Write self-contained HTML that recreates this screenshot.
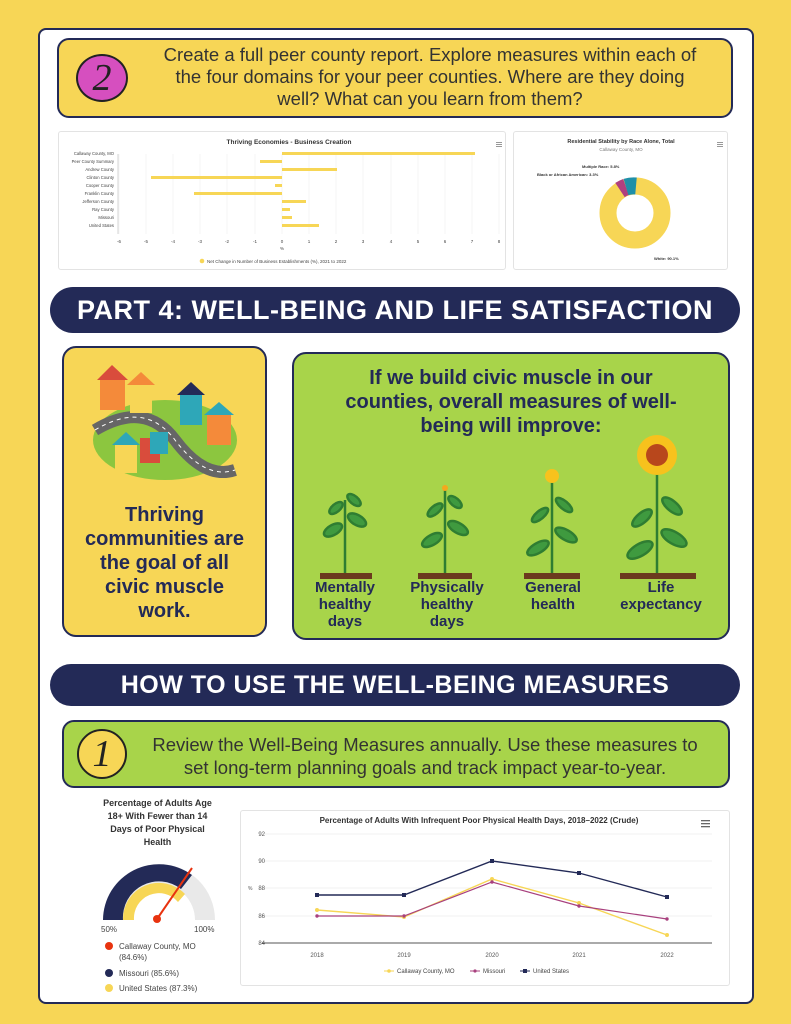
<!DOCTYPE html><html><head><meta charset="utf-8"><style>
*{margin:0;padding:0;box-sizing:border-box}
body{width:791px;height:1024px;background:#F7D656;position:relative;font-family:"Liberation Sans",sans-serif;overflow:hidden}
.abs{position:absolute}
.panel{left:38px;top:28px;width:716px;height:976px;background:#fff;border:2px solid #232a57;border-radius:8px}
.banner{background:#232a57;color:#fff;border-radius:24px;text-align:center;font-weight:bold;letter-spacing:0.5px}
.card{background:#fff;border:1px solid #e3e3e3;border-radius:3px}
</style></head><body>
<div class="abs panel"></div>
<div class="abs" style="left:57px;top:38px;width:676px;height:80px;background:#F7D656;border:2px solid #232a57;border-radius:12px"></div>
<div class="abs" style="left:76px;top:54px;width:52px;height:48px;border-radius:50%;background:#d64fbf;border:2px solid #222;color:#222;font-size:38px;text-align:center;line-height:44px;font-family:'Liberation Serif',serif;font-style:italic">2</div>
<div class="abs" style="left:130px;top:44px;width:600px;text-align:center;font-size:18.5px;line-height:22px;color:#333;white-space:nowrap">Create a full peer county report. Explore measures within each of<br>the four domains for your peer counties. Where are they doing<br>well? What can you learn from them?</div>

<div class="abs card" style="left:58px;top:131px;width:448px;height:139px">
<svg width="448" height="139" style="font-family:'Liberation Sans',sans-serif">
<text x="230" y="12" font-size="6.5" font-weight="bold" text-anchor="middle" fill="#333">Thriving Economies - Business Creation</text>
<g stroke="#eee" stroke-width="0.6">
<line x1="60" y1="22" x2="60" y2="102"/><line x1="87" y1="22" x2="87" y2="102"/><line x1="114" y1="22" x2="114" y2="102"/><line x1="141" y1="22" x2="141" y2="102"/><line x1="168" y1="22" x2="168" y2="102"/><line x1="196" y1="22" x2="196" y2="102"/><line x1="223" y1="22" x2="223" y2="102"/><line x1="250" y1="22" x2="250" y2="102"/><line x1="277" y1="22" x2="277" y2="102"/><line x1="304" y1="22" x2="304" y2="102"/><line x1="332" y1="22" x2="332" y2="102"/><line x1="359" y1="22" x2="359" y2="102"/><line x1="386" y1="22" x2="386" y2="102"/><line x1="413" y1="22" x2="413" y2="102"/><line x1="440" y1="22" x2="440" y2="102"/></g>
<line x1="59" y1="22" x2="59" y2="102" stroke="#ccc" stroke-width="0.8"/>
<g fill="#F7D656">
<rect x="223" y="20" width="193" height="3"/><rect x="201" y="28" width="22" height="3"/><rect x="223" y="36" width="55" height="3"/><rect x="92" y="44" width="131" height="3"/><rect x="216" y="52" width="7" height="3"/><rect x="135" y="60" width="88" height="3"/><rect x="223" y="68" width="24" height="3"/><rect x="223" y="76" width="8" height="3"/><rect x="223" y="84" width="10" height="3"/><rect x="223" y="92" width="37" height="3"/></g>
<g font-size="4.2" fill="#444" text-anchor="end">
<text x="55" y="23">Callaway County, MO</text><text x="55" y="31">Peer County Summary</text><text x="55" y="39">Andrew County</text><text x="55" y="47">Clinton County</text><text x="55" y="55">Cooper County</text><text x="55" y="63">Franklin County</text><text x="55" y="71">Jefferson County</text><text x="55" y="79">Ray County</text><text x="55" y="87">Missouri</text><text x="55" y="95">United States</text></g>
<g font-size="4.5" fill="#444" text-anchor="middle">
<text x="60" y="111">-6</text><text x="87" y="111">-5</text><text x="114" y="111">-4</text><text x="141" y="111">-3</text><text x="168" y="111">-2</text><text x="196" y="111">-1</text><text x="223" y="111">0</text><text x="250" y="111">1</text><text x="277" y="111">2</text><text x="304" y="111">3</text><text x="332" y="111">4</text><text x="359" y="111">5</text><text x="386" y="111">6</text><text x="413" y="111">7</text><text x="440" y="111">8</text><text x="223" y="118">%</text></g>
<circle cx="143" cy="129" r="2.3" fill="#F7D656"/><text x="148" y="131" font-size="4.5" fill="#444">Net Change in Number of Business Establishments (%), 2021 to 2022</text>
<g fill="#999"><rect x="437" y="10" width="6" height="1"/><rect x="437" y="12" width="6" height="1"/><rect x="437" y="14" width="6" height="1"/></g>
</svg></div>

<div class="abs card" style="left:513px;top:131px;width:215px;height:139px">
<svg width="215" height="139" style="font-family:'Liberation Sans',sans-serif">
<text x="107" y="11" font-size="5.5" font-weight="bold" text-anchor="middle" fill="#333">Residential Stability by Race Alone, Total</text>
<text x="107" y="19" font-size="4.5" text-anchor="middle" fill="#777">Callaway County, MO</text>
<circle cx="121" cy="81" r="27" fill="none" stroke="#F7D656" stroke-width="17"/>
<path d="M106 58 A27 27 0 0 1 112 55" stroke="#b0407f" stroke-width="17" fill="none"/>
<path d="M112 55 A27 27 0 0 1 122 54" stroke="#1f8fa8" stroke-width="17" fill="none"/>
<text x="68" y="36" font-size="4" font-weight="bold" fill="#333">Multiple Race: 5.8%</text>
<text x="23" y="44" font-size="4" font-weight="bold" fill="#333">Black or African American: 3.3%</text>
<text x="140" y="128" font-size="4" font-weight="bold" fill="#333">White: 90.1%</text>
<g fill="#999"><rect x="203" y="10" width="6" height="1"/><rect x="203" y="12" width="6" height="1"/><rect x="203" y="14" width="6" height="1"/></g>
</svg></div>

<div class="abs banner" style="left:50px;top:287px;width:690px;height:46px;font-size:27px;line-height:46px">PART 4: WELL-BEING AND LIFE SATISFACTION</div>

<div class="abs" style="left:62px;top:346px;width:205px;height:291px;background:#F7D656;border:2px solid #232a57;border-radius:14px"></div>
<svg class="abs" style="left:85px;top:360px" width="160" height="130">
<ellipse cx="80" cy="80" rx="72" ry="40" fill="#8cc63f"/>
<path d="M10 70 Q60 40 90 80 T150 110" stroke="#666" stroke-width="12" fill="none"/>
<path d="M10 70 Q60 40 90 80 T150 110" stroke="#fff" stroke-width="1" stroke-dasharray="4 4" fill="none"/>
<rect x="15" y="20" width="25" height="30" fill="#f48a3a"/><polygon points="12,20 27,5 43,20" fill="#d94c3c"/>
<rect x="45" y="25" width="22" height="28" fill="#f7d656"/><polygon points="42,25 56,12 70,25" fill="#f48a3a"/>
<rect x="95" y="35" width="22" height="30" fill="#2ea7b8"/><polygon points="92,35 106,22 120,35" fill="#232a57"/>
<rect x="122" y="55" width="24" height="30" fill="#f48a3a"/><polygon points="119,55 134,42 149,55" fill="#2ea7b8"/>
<rect x="30" y="85" width="22" height="28" fill="#f7d656"/><polygon points="27,85 41,72 55,85" fill="#2ea7b8"/>
<rect x="55" y="78" width="20" height="25" fill="#d94c3c"/><rect x="65" y="72" width="18" height="22" fill="#2ea7b8"/>
</svg>
<div class="abs" style="left:64px;top:503px;width:201px;text-align:center;font-size:20px;font-weight:bold;color:#232a57;line-height:24px;white-space:nowrap">Thriving<br>communities are<br>the goal of all<br>civic muscle<br>work.</div>

<div class="abs" style="left:292px;top:352px;width:438px;height:288px;background:#a8d44a;border:2px solid #232a57;border-radius:14px"></div>
<div class="abs" style="left:300px;top:366px;width:422px;text-align:center;font-size:20px;font-weight:bold;color:#232a57;line-height:24px;white-space:nowrap">If we build civic muscle in our<br>counties, overall measures of well-<br>being will improve:</div>
<svg class="abs" style="left:300px;top:430px" width="420" height="150">
<g stroke="#2f7d32" stroke-width="2.5" fill="#3f9a3f">
<line x1="45" y1="145" x2="45" y2="70"/><ellipse cx="33" cy="100" rx="10" ry="5" transform="rotate(-30 33 100)"/><ellipse cx="57" cy="90" rx="10" ry="5" transform="rotate(30 57 90)"/><ellipse cx="36" cy="78" rx="8" ry="4" transform="rotate(-40 36 78)"/><ellipse cx="54" cy="70" rx="8" ry="4" transform="rotate(40 54 70)"/>
<line x1="145" y1="145" x2="145" y2="60"/><ellipse cx="132" cy="110" rx="11" ry="5" transform="rotate(-30 132 110)"/><ellipse cx="158" cy="98" rx="11" ry="5" transform="rotate(30 158 98)"/><ellipse cx="135" cy="80" rx="9" ry="4" transform="rotate(-40 135 80)"/><ellipse cx="155" cy="72" rx="8" ry="4" transform="rotate(40 155 72)"/>
<line x1="252" y1="145" x2="252" y2="48"/><ellipse cx="238" cy="118" rx="12" ry="5" transform="rotate(-30 238 118)"/><ellipse cx="266" cy="105" rx="12" ry="5" transform="rotate(30 266 105)"/><ellipse cx="240" cy="85" rx="10" ry="4" transform="rotate(-40 240 85)"/><ellipse cx="264" cy="75" rx="10" ry="4" transform="rotate(40 264 75)"/>
<line x1="357" y1="145" x2="357" y2="30"/><ellipse cx="340" cy="120" rx="14" ry="6" transform="rotate(-30 340 120)"/><ellipse cx="374" cy="108" rx="14" ry="6" transform="rotate(30 374 108)"/><ellipse cx="342" cy="88" rx="12" ry="5" transform="rotate(-40 342 88)"/><ellipse cx="372" cy="76" rx="12" ry="5" transform="rotate(40 372 76)"/></g>
<circle cx="145" cy="58" r="3" fill="#f4a81d"/>
<circle cx="252" cy="46" r="7" fill="#f7c21d"/>
<circle cx="357" cy="25" r="20" fill="#f7c21d"/><circle cx="357" cy="25" r="11" fill="#b8471c"/>
<g fill="#6b3a1e"><rect x="20" y="143" width="52" height="6"/><rect x="118" y="143" width="54" height="6"/><rect x="224" y="143" width="56" height="6"/><rect x="320" y="143" width="76" height="6"/></g>
</svg>
<div class="abs" style="left:300px;top:579px;width:420px;font-size:15px;font-weight:bold;color:#232a57;line-height:17px">
<div class="abs" style="left:0;width:90px;text-align:center">Mentally healthy days</div>
<div class="abs" style="left:102px;width:90px;text-align:center">Physically healthy days</div>
<div class="abs" style="left:208px;width:90px;text-align:center">General health</div>
<div class="abs" style="left:306px;width:110px;text-align:center">Life expectancy</div></div>

<div class="abs banner" style="left:50px;top:664px;width:690px;height:42px;font-size:25px;line-height:42px">HOW TO USE THE WELL-BEING MEASURES</div>

<div class="abs" style="left:62px;top:720px;width:668px;height:68px;background:#a8d44a;border:2px solid #232a57;border-radius:12px"></div>
<div class="abs" style="left:77px;top:729px;width:50px;height:50px;border-radius:50%;background:#F7D656;border:2px solid #222;color:#222;font-size:38px;text-align:center;line-height:46px;font-family:'Liberation Serif',serif;font-style:italic">1</div>
<div class="abs" style="left:130px;top:733px;width:590px;text-align:center;font-size:18.5px;line-height:23px;color:#333;white-space:nowrap">Review the Well-Being Measures annually. Use these measures to<br>set long-term planning goals and track impact year-to-year.</div>

<div class="abs" style="left:95px;top:797px;width:125px;text-align:center;font-size:9px;font-weight:bold;color:#333;line-height:13px;white-space:nowrap">Percentage of Adults Age<br>18+ With Fewer than 14<br>Days of Poor Physical<br>Health</div>
<svg class="abs" style="left:95px;top:858px" width="130" height="140" font-family="Liberation Sans">
<path d="M8 62 A56 56 0 0 1 120 62 L100 62 A36 36 0 0 0 28 62 Z" fill="#e9e9e9"/>
<path d="M8 62 A56 56 0 0 1 97 17 L86 31 A36 36 0 0 0 28 62 Z" fill="#232a57"/>
<path d="M28 62 A36 36 0 0 1 90 36 L83 44 A25 25 0 0 0 39 62 Z" fill="#F7D656"/>
<line x1="62" y1="61" x2="97" y2="10" stroke="#e8330f" stroke-width="2"/><circle cx="62" cy="61" r="4" fill="#e8330f"/>
<text x="6" y="74" font-size="8" fill="#444">50%</text><text x="99" y="74" font-size="8" fill="#444">100%</text>
<circle cx="14" cy="88" r="4" fill="#e8330f"/><text x="24" y="91" font-size="8" fill="#444">Callaway County, MO</text>
<text x="24" y="102" font-size="8" fill="#444">(84.6%)</text>
<circle cx="14" cy="115" r="4" fill="#232a57"/><text x="24" y="118" font-size="8" fill="#444">Missouri (85.6%)</text>
<circle cx="14" cy="130" r="4" fill="#F7D656"/><text x="24" y="133" font-size="8" fill="#444">United States (87.3%)</text>
</svg>

<div class="abs card" style="left:240px;top:810px;width:490px;height:176px"></div>
<svg class="abs" style="left:0;top:0" width="791" height="1024" font-family="Liberation Sans">
<text x="479" y="823" font-size="8" font-weight="bold" text-anchor="middle" fill="#333">Percentage of Adults With Infrequent Poor Physical Health Days, 2018–2022 (Crude)</text>
<g fill="#666"><rect x="701" y="820" width="9" height="1.3"/><rect x="701" y="823" width="9" height="1.3"/><rect x="701" y="826" width="9" height="1.3"/></g>
<g stroke="#eee" stroke-width="0.8"><line x1="262" y1="834" x2="712" y2="834"/><line x1="262" y1="861" x2="712" y2="861"/><line x1="262" y1="888" x2="712" y2="888"/><line x1="262" y1="916" x2="712" y2="916"/></g>
<line x1="262" y1="943" x2="712" y2="943" stroke="#555" stroke-width="1"/>
<g font-size="6" fill="#555" text-anchor="end"><text x="265" y="836">92</text><text x="265" y="863">90</text><text x="265" y="890">88</text><text x="265" y="918">86</text><text x="265" y="945">84</text></g>
<text x="248" y="890" font-size="5" fill="#555">%</text>
<g font-size="6" fill="#555" text-anchor="middle"><text x="317" y="957">2018</text><text x="404" y="957">2019</text><text x="492" y="957">2020</text><text x="579" y="957">2021</text><text x="667" y="957">2022</text></g>
<polyline points="317,895 404,895 492,861 579,873 667,897" fill="none" stroke="#232a57" stroke-width="1.4"/>
<g fill="#232a57"><rect x="315" y="893" width="4" height="4"/><rect x="402" y="893" width="4" height="4"/><rect x="490" y="859" width="4" height="4"/><rect x="577" y="871" width="4" height="4"/><rect x="665" y="895" width="4" height="4"/></g>
<polyline points="317,910 404,917 492,879 579,903 667,935" fill="none" stroke="#F7D656" stroke-width="1.4"/>
<polyline points="317,916 404,916 492,882 579,906 667,919" fill="none" stroke="#a8407e" stroke-width="1.2"/>
<g fill="#F7D656"><circle cx="317" cy="910" r="2"/><circle cx="404" cy="917" r="2"/><circle cx="492" cy="879" r="2"/><circle cx="579" cy="903" r="2"/><circle cx="667" cy="935" r="2"/></g>
<g fill="#a8407e"><circle cx="317" cy="916" r="1.7"/><circle cx="404" cy="916" r="1.7"/><circle cx="492" cy="882" r="1.7"/><circle cx="579" cy="906" r="1.7"/><circle cx="667" cy="919" r="1.7"/></g>
<g font-size="6" fill="#444"><line x1="384" y1="971" x2="394" y2="971" stroke="#F7D656"/><circle cx="389" cy="971" r="1.8" fill="#F7D656"/><text x="397" y="973">Callaway County, MO</text>
<line x1="470" y1="971" x2="480" y2="971" stroke="#a8407e"/><circle cx="475" cy="971" r="1.6" fill="#a8407e"/><text x="483" y="973">Missouri</text>
<line x1="520" y1="971" x2="530" y2="971" stroke="#232a57"/><rect x="523" y="969" width="4" height="4" fill="#232a57"/><text x="533" y="973">United States</text></g>
</svg>
</body></html>
